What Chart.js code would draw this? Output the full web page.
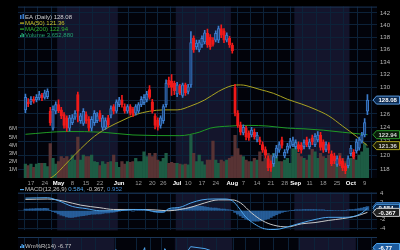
<!doctype html>
<html lang="en">
<head>
  <meta charset="utf-8">
  <title>EA (Daily)</title>
  <script src="https://cdn.jsdelivr.net/npm/chart.js"></script>
  <style>
    html, body { margin: 0; padding: 0; background: #000; width: 400px; height: 250px; overflow: hidden; }
    .panel { position: absolute; left: 0; width: 400px; }
    #mainBox { top: 0; height: 186px; }
    #macdBox { top: 186px; height: 51px; }
    #wmBox { top: 237px; height: 60px; }
  </style>
</head>
<body>
  <div class="panel" id="mainBox"><canvas id="mainChart" width="400" height="186"></canvas></div>
  <div class="panel" id="macdBox"><canvas id="macdChart" width="400" height="51"></canvas></div>
  <div class="panel" id="wmBox"><canvas id="wmChart" width="400" height="60"></canvas></div>

  <script>
    // trading days shown (2023)
    const days = [
      '4/13', '4/14', '4/17', '4/18', '4/19', '4/20', '4/21', '4/24', '4/25', '4/26', '4/27', '4/28',
      '5/1', '5/2', '5/3', '5/4', '5/5', '5/8', '5/9', '5/10', '5/11', '5/12', '5/15', '5/16', '5/17', '5/18', '5/19',
      '5/22', '5/23', '5/24', '5/25', '5/26', '5/30', '5/31',
      '6/1', '6/2', '6/5', '6/6', '6/7', '6/8', '6/9', '6/12', '6/13', '6/14', '6/15', '6/16', '6/20', '6/21', '6/22', '6/23',
      '6/26', '6/27', '6/28', '6/29', '6/30',
      '7/3', '7/5', '7/6', '7/7', '7/10', '7/11', '7/12', '7/13', '7/14', '7/17', '7/18', '7/19', '7/20', '7/21',
      '7/24', '7/25', '7/26', '7/27', '7/28', '7/31',
      '8/1', '8/2', '8/3', '8/4', '8/7', '8/8', '8/9', '8/10', '8/11', '8/14', '8/15', '8/16', '8/17', '8/18',
      '8/21', '8/22', '8/23', '8/24', '8/25', '8/28', '8/29', '8/30', '8/31',
      '9/1', '9/5', '9/6', '9/7', '9/8', '9/11', '9/12', '9/13', '9/14', '9/15', '9/18', '9/19', '9/20', '9/21', '9/22',
      '9/25', '9/26', '9/27', '9/28', '9/29',
      '10/2', '10/3', '10/4', '10/5', '10/6', '10/9', '10/10'
    ];

    // x axis labels and the day they sit on
    const tickIdx = [2, 7, 12, 17, 22, 27, 34, 41, 46, 50, 55, 59, 64, 69, 75, 79, 84, 89, 94, 98, 103, 108, 113, 118, 123];
    const tickText = ['17', '24', 'May', '8', '15', '22', 'Jun', '12', '20', '26', 'Jul', '10', '17', '24', 'Aug', '7', '14', '21', '28', 'Sep', '11', '18', '25', 'Oct', '9'];
    const monthNames = ['May', 'Jun', 'Jul', 'Aug', 'Sep', 'Oct'];
    const shadedMonths = ['May', 'Jul', 'Sep'];

    const open = [
      126.6, 127.8, 127.8, 128.2, 128.1, 128.4, 128.8, 128.5, 128.6, 126.4,
      123.9, 126.4, 127.4, 126.6, 125.9, 125.4, 123.9, 124.7, 125.5, 128.9,
      125.0, 124.6, 125.9, 125.2, 123.9, 124.7, 125.0, 126.1, 124.0, 124.0,
      125.4, 125.8, 127.1, 126.4, 127.4, 128.1, 127.1, 126.4, 127.1, 126.7,
      126.1, 126.4, 127.4, 127.7, 128.1, 129.7, 127.8, 125.7, 125.1, 124.3,
      125.0, 127.4, 131.1, 131.0, 130.7, 129.0, 130.2, 128.8, 130.4, 129.4,
      130.4, 137.8, 136.4, 135.9, 136.7, 137.2, 138.6, 138.0, 137.5, 137.5,
      137.5, 139.4, 139.0, 137.5, 137.8, 136.7, 130.0, 126.1, 124.4, 123.2,
      123.9, 123.2, 122.9, 123.3, 122.2, 122.2, 121.5, 120.8, 119.5, 118.8,
      118.8, 119.9, 120.7, 122.2, 119.9, 120.7, 121.3, 121.5, 121.2, 121.5,
      121.4, 121.2, 122.2, 121.2, 122.5, 121.5, 122.2, 122.9, 121.9, 120.8,
      121.5, 120.2, 119.9, 118.7, 119.5, 119.2, 118.5, 118.5, 120.2, 120.4,
      120.6, 121.0, 122.0, 122.9, 126.4
    ];
    const high = [
      129.0, 128.3, 128.6, 128.6, 128.9, 129.4, 129.1, 129.6, 129.8, 127.0,
      127.2, 127.8, 128.1, 127.0, 126.2, 125.7, 125.8, 125.9, 126.5, 129.3,
      126.1, 126.8, 126.3, 125.6, 125.6, 126.5, 126.2, 126.5, 125.8, 125.4,
      125.8, 127.2, 127.4, 128.1, 128.5, 128.8, 127.5, 127.4, 127.4, 127.0,
      127.4, 127.7, 128.6, 128.9, 129.4, 130.3, 128.2, 126.0, 125.4, 125.7,
      127.4, 131.2, 131.6, 132.0, 131.0, 130.8, 130.5, 130.7, 130.7, 130.5,
      138.9, 138.2, 137.5, 137.5, 138.2, 139.1, 139.3, 138.4, 137.9, 139.0,
      139.8, 140.0, 139.4, 138.7, 138.1, 137.0, 130.5, 126.5, 124.8, 124.4,
      124.2, 123.5, 124.0, 123.8, 123.3, 122.6, 121.9, 121.2, 119.9, 119.2,
      120.2, 121.4, 121.9, 122.6, 120.8, 121.7, 122.4, 122.6, 122.2, 121.9,
      121.8, 122.2, 122.6, 122.3, 122.9, 123.1, 123.4, 123.3, 122.2, 121.9,
      121.8, 120.6, 120.3, 119.9, 119.9, 119.5, 118.8, 119.9, 121.4, 120.8,
      122.3, 122.6, 123.3, 125.3, 128.9
    ];
    const low = [
      126.2, 127.1, 127.4, 127.6, 127.8, 128.1, 128.0, 128.2, 128.3, 124.3,
      123.6, 126.0, 126.2, 125.3, 123.9, 123.4, 123.5, 124.4, 125.2, 124.8,
      124.6, 124.3, 124.6, 123.5, 123.5, 124.3, 124.7, 124.9, 123.6, 123.7,
      124.1, 125.4, 126.0, 126.1, 127.1, 127.0, 126.1, 126.1, 125.8, 125.6,
      125.8, 126.1, 127.1, 127.4, 127.8, 128.2, 126.1, 123.8, 123.6, 123.9,
      124.6, 127.0, 130.0, 128.8, 128.9, 128.6, 128.9, 128.5, 128.8, 129.0,
      130.0, 135.5, 136.0, 135.6, 136.3, 136.9, 136.3, 136.0, 136.5, 137.2,
      137.1, 137.9, 137.1, 137.2, 136.3, 135.4, 125.7, 124.0, 122.9, 122.9,
      122.2, 122.1, 122.6, 122.3, 121.9, 121.5, 120.4, 119.6, 117.8, 117.7,
      118.4, 119.6, 120.4, 121.0, 119.6, 120.3, 121.0, 121.2, 120.9, 120.5,
      120.3, 120.9, 121.2, 120.9, 121.5, 121.2, 121.9, 120.7, 120.4, 120.5,
      120.3, 118.5, 118.8, 118.4, 118.5, 117.8, 117.4, 118.2, 119.9, 119.5,
      120.3, 120.7, 121.7, 122.6, 125.9
    ];
    const close = [
      128.5, 127.5, 128.2, 127.9, 128.5, 128.9, 128.4, 129.2, 129.4, 124.7,
      126.7, 127.4, 126.5, 125.7, 124.3, 123.9, 125.4, 125.4, 126.1, 126.4,
      125.7, 126.4, 125.0, 123.9, 125.2, 126.1, 125.7, 125.3, 125.4, 125.0,
      124.4, 126.8, 126.4, 127.8, 128.1, 127.4, 126.4, 127.1, 126.1, 125.9,
      127.1, 127.4, 128.2, 128.5, 129.0, 128.5, 126.4, 124.3, 124.1, 125.4,
      127.1, 130.7, 130.4, 130.0, 129.5, 130.4, 129.2, 130.4, 129.2, 130.1,
      137.1, 135.9, 137.0, 137.1, 137.8, 138.7, 136.7, 136.4, 136.8, 138.6,
      139.4, 138.3, 137.5, 138.3, 136.7, 135.8, 126.1, 124.3, 123.3, 124.0,
      122.6, 122.5, 123.6, 122.6, 122.9, 121.9, 120.7, 120.0, 118.2, 118.2,
      119.8, 121.0, 121.5, 121.4, 120.4, 121.3, 122.0, 122.2, 121.8, 120.9,
      120.7, 121.8, 121.5, 121.9, 121.9, 122.7, 122.9, 121.1, 120.7, 121.5,
      120.7, 118.8, 119.2, 119.5, 118.8, 118.2, 117.8, 119.5, 121.0, 119.8,
      121.9, 122.2, 122.9, 124.7, 128.08
    ];
    // volume in millions of shares
    const volume = [
      1.7, 1.5, 1.7, 1.3, 1.7, 1.8, 1.8, 1.8, 1.4, 4.2,
      2.4, 1.7, 2.0, 2.6, 2.4, 2.6, 2.0, 2.8, 2.2, 5.0,
      2.2, 2.8, 2.6, 2.6, 2.8, 2.0, 1.9, 1.5, 2.0, 1.7,
      1.9, 2.0, 2.8, 1.9, 1.3, 2.0, 1.7, 2.0, 1.9, 2.0,
      2.4, 2.0, 2.0, 3.2, 2.6, 3.0, 2.6, 3.0, 2.2, 2.0,
      2.4, 3.0, 1.8, 1.9, 1.8, 1.8, 1.7, 1.6, 1.7, 1.6,
      5.2, 3.0, 2.0, 2.8, 2.0, 1.6, 2.2, 2.2, 4.5, 2.2,
      1.8, 2.2, 2.0, 2.2, 2.4, 2.6, 5.2, 3.6, 2.8, 2.6,
      2.2, 2.0, 2.0, 2.4, 2.2, 3.2, 2.0, 2.4, 3.0, 2.8,
      3.0, 2.6, 2.0, 2.0, 2.2, 2.4, 1.8, 3.6, 4.4, 3.0,
      2.6, 2.4, 2.2, 2.8, 3.5, 3.2, 2.4, 3.0, 2.6, 2.4,
      2.8, 2.6, 2.2, 2.0, 3.0, 2.4, 2.0, 2.2, 2.4, 2.6,
      2.2, 2.8, 3.2, 4.2, 3.65288
    ];

    const ma50Idx = [0, 5, 10, 15, 20, 25, 30, 35, 40, 45, 50, 55, 60, 65, 70, 75, 78, 80, 85, 90, 95, 100, 105, 110, 115, 120, 124];
    const ma50 = [115.2, 116.2, 117.0, 118.9, 120.9, 122.7, 124.0, 125.0, 125.9, 126.4, 126.6, 126.6, 127.2, 128.1, 129.4, 130.3, 130.4, 130.3, 129.7, 129.1, 128.2, 127.5, 126.7, 125.7, 124.2, 122.7, 121.36];
    const ma200Idx = [0, 15, 28, 39, 56, 63, 67, 74, 81, 88, 95, 101, 108, 115, 124];
    const ma200 = [123.0, 123.4, 123.3, 122.9, 122.8, 123.3, 123.9, 124.2, 124.3, 124.2, 123.9, 123.8, 123.6, 123.3, 122.94];

    const macdIdx = [0, 8, 12, 17, 22, 27, 32, 37, 42, 47, 50, 52, 56, 60, 64, 68, 72, 75, 77, 80, 83, 86, 89, 92, 95, 100, 105, 110, 115, 119, 122, 124];
    const macd = [2.9, 3.0, 2.3, 1.0, 0.5, 0, 0, 0.2, 0.3, -0.2, -0.3, 0.5, 0.8, 1.8, 2.5, 2.7, 2.7, 2.3, 1.0, -1.5, -3.0, -4.0, -4.3, -4.2, -3.7, -2.8, -2.0, -1.5, -1.5, -1.3, -0.5, 0.584];
    const signalIdx = [0, 8, 14, 20, 27, 32, 40, 47, 52, 56, 60, 65, 70, 75, 78, 82, 86, 90, 95, 100, 105, 110, 115, 120, 124];
    const signal = [2.6, 2.7, 2.2, 1.3, 0.7, 0.3, 0.3, 0.2, 0, 0.3, 0.8, 1.8, 2.5, 2.5, 1.8, -0.5, -2.3, -3.3, -3.7, -3.0, -2.7, -2.2, -1.8, -1.2, -0.367];
    const macdHist = [
      0.4, 0.4, 0.45, 0.45, 0.5, 0.5, 0.5, 0.55, 0.5, 0.1,
      -0.2, -0.4, -0.7, -1.0, -1.2, -1.4, -1.5, -1.5, -1.4, -1.3,
      -1.2, -1.1, -1.0, -0.9, -0.8, -0.8, -0.7, -0.7, -0.6, -0.5,
      -0.5, -0.4, -0.3, -0.2, -0.1, 0, 0, 0.1, 0, -0.1,
      0, 0.1, 0.1, 0.2, 0.2, 0.1, -0.1, -0.3, -0.4, -0.4,
      -0.3, 0, 0.3, 0.4, 0.5, 0.5, 0.5, 0.5, 0.6, 0.7,
      0.9, 1.0, 1.1, 1.1, 1.0, 0.9, 0.8, 0.7, 0.6, 0.6,
      0.5, 0.4, 0.4, 0.3, 0.2, 0.1, -0.4, -0.8, -1.2, -1.6,
      -1.9, -2.1, -2.3, -2.4, -2.4, -2.3, -2.2, -2.0, -1.8, -1.5,
      -1.2, -0.9, -0.6, -0.4, -0.2, -0.1, 0, 0.1, 0.2, 0.2,
      0.2, 0.3, 0.3, 0.3, 0.3, 0.3, 0.2, 0.2, 0.2, 0.1,
      0.1, 0.1, 0, 0, 0, 0.1, 0.1, 0.2, 0.3, 0.3,
      0.4, 0.5, 0.6, 0.8, 0.952
    ];

    const wmIdx = [0, 4, 8, 9, 12, 16, 19, 22, 26, 30, 34, 38, 44, 47, 51, 55, 60, 65, 70, 75, 76, 80, 88, 92, 98, 104, 110, 116, 120, 124];
    const wm = [-40, -25, -14, -85, -55, -60, -35, -60, -50, -75, -11, -55, -9, -90, -10, -30, -8, -10, -15, -40, -95, -85, -95, -45, -50, -35, -70, -95, -40, -6.77];

    const priceTicks = [118, 120, 122, 124, 126, 128, 130, 132, 134, 136, 138, 140, 142];
    const volTicks = [1, 2, 3, 4, 5, 6];
    const macdTicks = [4, 2, 0, -2, -4];

    const FONT = '"Liberation Sans", Arial, sans-serif';
    const gridColor = '#0c2239';
    const bandColor = '#14152c';
    const upColor = '#3b7ccc';
    const upFill = 'rgba(24,54,100,0.9)';
    const downColor = '#f01a1a';
    const ma50Color = '#a9a321';
    const ma200Color = '#1f9a24';
    const last = close.length - 1;

    const isUp = close.map((c, i) => c >= open[i]);
    const pts = (idx, vals) => idx.map((x, i) => ({ x: x, y: vals[i] }));

    function xScale(showLabels) {
      return {
        type: 'linear',
        min: -0.09,
        max: days.length - 0.13,
        afterBuildTicks: s => { s.ticks = tickIdx.map(v => ({ value: v })); },
        afterFit: s => { s.height = showLabels ? 8 : 0; },
        border: { display: false },
        grid: { color: gridColor, lineWidth: 1, drawTicks: false },
        ticks: {
          display: showLabels,
          autoSkip: false,
          maxRotation: 0,
          padding: 1.5,
          callback: (v, i) => tickText[i],
          color: c => monthNames.includes(tickText[c.index]) ? '#ffffff' : '#9a9a9a',
          font: c => ({ size: 6, family: FONT, weight: monthNames.includes(tickText[c.index]) ? 'bold' : 'normal' })
        }
      };
    }

    // dark plot background with shaded months
    const panelBg = {
      id: 'panelBg',
      beforeDraw(chart) {
        const { ctx, chartArea: a } = chart;
        const x = chart.scales.x;
        ctx.save();
        ctx.fillStyle = '#000';
        ctx.fillRect(0, 0, chart.width, chart.height);
        ctx.fillStyle = '#02030a';
        ctx.fillRect(a.left, a.top, a.width, a.height);
        ctx.fillStyle = bandColor;
        shadedMonths.forEach(m => {
          const k = tickText.indexOf(m);
          const next = tickText.findIndex((t, j) => j > k && monthNames.includes(t));
          const from = x.getPixelForValue(tickIdx[k] - 0.5);
          const to = next < 0 ? a.right : x.getPixelForValue(tickIdx[next] - 0.5);
          ctx.fillRect(from, a.top, to - from, a.height);
        });
        ctx.restore();
      },
      afterDraw(chart) {
        const { ctx, chartArea: a } = chart;
        ctx.save();
        ctx.strokeStyle = '#1a3555';
        ctx.beginPath();
        ctx.moveTo(a.left, a.top + 0.5);
        ctx.lineTo(a.right, a.top + 0.5);
        ctx.stroke();
        ctx.restore();
      }
    };

    function drawTag(ctx, y, text, border, fill, color) {
      ctx.save();
      ctx.beginPath();
      ctx.moveTo(373, y);
      ctx.lineTo(376.5, y - 4);
      ctx.lineTo(399.5, y - 4);
      ctx.lineTo(399.5, y + 4);
      ctx.lineTo(376.5, y + 4);
      ctx.closePath();
      ctx.fillStyle = fill;
      ctx.fill();
      ctx.strokeStyle = border;
      ctx.lineWidth = 1;
      ctx.stroke();
      ctx.fillStyle = color;
      ctx.font = 'bold 6px ' + FONT;
      ctx.textBaseline = 'middle';
      ctx.textAlign = 'left';
      ctx.fillText(text, 378.5, y + 0.5);
      ctx.restore();
    }

    function drawLegend(ctx, x, y, parts, icon, iconColor) {
      ctx.save();
      ctx.font = '6px ' + FONT;
      ctx.textBaseline = 'middle';
      ctx.fillStyle = iconColor;
      if (icon === 'line') {
        ctx.fillRect(x, y - 0.5, 4, 1.2);
      } else if (icon === 'candle') {
        ctx.fillRect(x, y - 2, 1.5, 4);
        ctx.fillRect(x + 2.5, y - 3, 1.5, 5);
      } else {
        ctx.fillRect(x, y, 1.2, 2);
        ctx.fillRect(x + 1.5, y - 2, 1.2, 4);
        ctx.fillRect(x + 3, y - 1, 1.2, 3);
      }
      let cx = x + 5;
      parts.forEach(p => {
        ctx.fillStyle = p.color;
        ctx.fillText(p.text, cx, y);
        cx += ctx.measureText(p.text).width;
      });
      ctx.restore();
    }

    const mainOverlay = {
      id: 'mainOverlay',
      afterDraw(chart) {
        const ctx = chart.ctx;
        const y = chart.scales.y;
        drawLegend(ctx, 20, 17, [{ text: 'EA (Daily) ' + close[last].toFixed(2), color: '#d0d0d0' }], 'candle', upColor);
        drawLegend(ctx, 20, 23, [{ text: 'MA(50) ' + ma50[ma50.length - 1].toFixed(2), color: '#c9c22a' }], 'line', '#c9c22a');
        drawLegend(ctx, 20, 29, [{ text: 'MA(200) ' + ma200[ma200.length - 1].toFixed(2), color: '#2fb02f' }], 'line', '#2fb02f');
        drawLegend(ctx, 20, 35, [{ text: 'Volume ' + Math.round(volume[last] * 1e6).toLocaleString('en-US'), color: '#23a070' }], 'bars', '#23a070');
        drawTag(ctx, y.getPixelForValue(close[last]), close[last].toFixed(2), '#5a9be0', '#0c2a50', '#ffffff');
        drawTag(ctx, y.getPixelForValue(ma200[ma200.length - 1]), ma200[ma200.length - 1].toFixed(2), '#2a9a2a', '#0a1a0a', '#d8d8d8');
        drawTag(ctx, y.getPixelForValue(ma50[ma50.length - 1]), ma50[ma50.length - 1].toFixed(2), '#a9a321', '#1a1a06', '#d8d8d8');
      }
    };

    new Chart(document.getElementById('mainChart'), {
      type: 'bar',
      data: {
        datasets: [
          {
            label: 'Body',
            data: close.map((c, i) => ({ x: i, y: [open[i], c] })),
            yAxisID: 'y',
            backgroundColor: isUp.map(u => u ? upFill : downColor),
            borderColor: isUp.map(u => u ? upColor : downColor),
            borderWidth: 1,
            borderSkipped: false,
            barThickness: 2.6,
            minBarLength: 1,
            grouped: false,
            order: 1
          },
          {
            label: 'Wick',
            data: close.map((c, i) => ({ x: i, y: [low[i], high[i]] })),
            yAxisID: 'y',
            backgroundColor: isUp.map(u => u ? upColor : downColor),
            borderWidth: 0,
            barThickness: 1,
            grouped: false,
            order: 2
          },
          {
            type: 'line',
            label: 'MA(50)',
            data: pts(ma50Idx, ma50),
            yAxisID: 'y',
            borderColor: ma50Color,
            borderWidth: 1,
            pointRadius: 0,
            cubicInterpolationMode: 'monotone',
            order: 3
          },
          {
            type: 'line',
            label: 'MA(200)',
            data: pts(ma200Idx, ma200),
            yAxisID: 'y',
            borderColor: ma200Color,
            borderWidth: 1,
            pointRadius: 0,
            cubicInterpolationMode: 'monotone',
            order: 3
          },
          {
            label: 'Volume',
            data: volume.map((v, i) => ({ x: i, y: v })),
            yAxisID: 'yv',
            backgroundColor: isUp.map(u => u ? '#1d5c44' : '#583334'),
            borderWidth: 0,
            barThickness: 2.6,
            grouped: false,
            order: 5
          }
        ]
      },
      options: {
        responsive: false,
        animation: false,
        events: [],
        layout: { autoPadding: false, padding: 0 },
        plugins: { legend: { display: false }, tooltip: { enabled: false } },
        scales: {
          x: xScale(true),
          y: {
            type: 'logarithmic',
            position: 'right',
            min: 116.8,
            max: 143.06,
            afterBuildTicks: s => { s.ticks = priceTicks.map(v => ({ value: v })); },
            afterFit: s => { s.width = 23; },
            border: { display: false },
            grid: { color: gridColor, drawTicks: false },
            ticks: { padding: 3, color: '#b8b8b8', font: { size: 6, family: FONT }, callback: v => String(v) }
          },
          yv: {
            type: 'linear',
            position: 'left',
            min: 0,
            max: 20.9,
            afterBuildTicks: s => { s.ticks = volTicks.map(v => ({ value: v })); },
            afterFit: s => { s.width = 18; },
            border: { display: false },
            grid: { display: false, drawTicks: false },
            ticks: { padding: 1, color: '#b8b8b8', font: { size: 6, family: FONT }, callback: v => v + 'M' }
          }
        }
      },
      plugins: [panelBg, mainOverlay]
    });

    const macdOverlay = {
      id: 'macdOverlay',
      afterDraw(chart) {
        const ctx = chart.ctx;
        const y = chart.scales.y;
        const m = macd[macd.length - 1], s = signal[signal.length - 1], h = macdHist[last];
        drawLegend(ctx, 20, 3.5, [
          { text: 'MACD(12,26,9) ', color: '#c8c8c8' },
          { text: m.toFixed(3) + ', ', color: '#4fa6ee' },
          { text: s.toFixed(3) + ', ', color: '#c8c8c8' },
          { text: h.toFixed(3), color: '#3f82cc' }
        ], 'line', '#4fa6ee');
        drawTag(ctx, y.getPixelForValue(h), h.toFixed(3), '#3f82cc', '#0c2a50', '#ffffff');
        drawTag(ctx, y.getPixelForValue(m), m.toFixed(3), '#4fa6ee', '#0c2a50', '#ffffff');
        drawTag(ctx, y.getPixelForValue(s), s.toFixed(3), '#c8c8c8', '#202020', '#ffffff');
      }
    };

    new Chart(document.getElementById('macdChart'), {
      type: 'bar',
      data: {
        datasets: [
          {
            type: 'line',
            label: 'MACD',
            data: pts(macdIdx, macd),
            borderColor: '#4fa6ee',
            borderWidth: 1,
            pointRadius: 0,
            cubicInterpolationMode: 'monotone',
            order: 1
          },
          {
            type: 'line',
            label: 'Signal',
            data: pts(signalIdx, signal),
            borderColor: '#c8c8c8',
            borderWidth: 1,
            pointRadius: 0,
            cubicInterpolationMode: 'monotone',
            order: 2
          },
          {
            label: 'Histogram',
            data: macdHist.map((v, i) => ({ x: i, y: v })),
            backgroundColor: 'rgba(40,98,160,0.9)',
            borderWidth: 0,
            barThickness: 2.9,
            grouped: false,
            order: 3
          }
        ]
      },
      options: {
        responsive: false,
        animation: false,
        events: [],
        layout: { autoPadding: false, padding: { left: 18 } },
        plugins: { legend: { display: false }, tooltip: { enabled: false } },
        scales: {
          x: xScale(false),
          y: {
            position: 'right',
            min: -4.5,
            max: 4.17,
            afterBuildTicks: s => { s.ticks = macdTicks.map(v => ({ value: v })); },
            afterFit: s => { s.width = 23; },
            border: { display: false },
            grid: { color: gridColor, drawTicks: false },
            ticks: { padding: 3, color: '#b8b8b8', font: { size: 6, family: FONT } }
          }
        }
      },
      plugins: [panelBg, macdOverlay]
    });

    const wmOverlay = {
      id: 'wmOverlay',
      afterDraw(chart) {
        const ctx = chart.ctx;
        const v = wm[wm.length - 1];
        drawLegend(ctx, 20, 9, [{ text: 'Wm%R(14) ' + v.toFixed(2), color: '#c8c8c8' }], 'bars', '#4fa6ee');
        drawTag(ctx, chart.scales.y.getPixelForValue(v) + 2, v.toFixed(2), '#4fa6ee', '#1c5a9c', '#ffffff');
      }
    };

    new Chart(document.getElementById('wmChart'), {
      type: 'line',
      data: {
        datasets: [{
          label: 'Wm%R(14)',
          data: pts(wmIdx, wm),
          borderColor: '#4fa6ee',
          borderWidth: 1,
          pointRadius: 0
        }]
      },
      options: {
        responsive: false,
        animation: false,
        events: [],
        layout: { autoPadding: false, padding: { left: 18 } },
        plugins: { legend: { display: false }, tooltip: { enabled: false } },
        scales: {
          x: xScale(false),
          y: {
            position: 'right',
            min: -60,
            max: 2,
            afterBuildTicks: s => { s.ticks = [-20].map(v => ({ value: v })); },
            afterFit: s => { s.width = 23; },
            border: { display: false },
            grid: { color: gridColor, drawTicks: false },
            ticks: { display: false }
          }
        }
      },
      plugins: [panelBg, wmOverlay]
    });
  </script>
</body>
</html>
